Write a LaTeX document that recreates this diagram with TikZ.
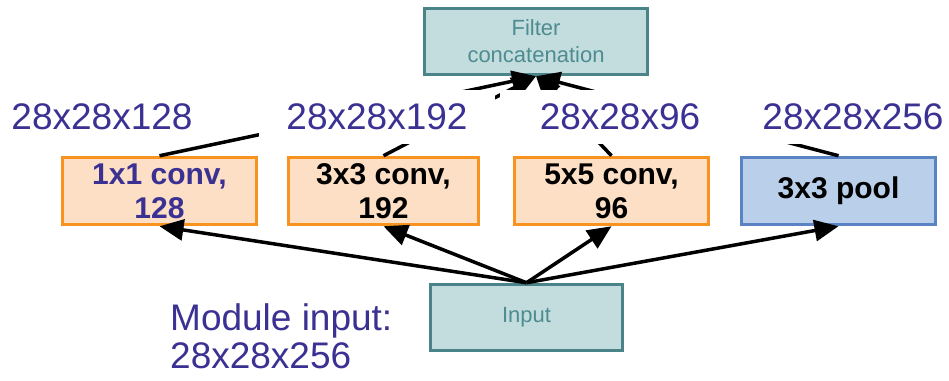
\documentclass[tikz,border=0pt]{standalone}
\usepackage{fontspec}
\setmainfont{Liberation Sans}
\usetikzlibrary{arrows.meta}

\definecolor{dimblue}{HTML}{3A3193}
\definecolor{tealline}{HTML}{4A8388}
\definecolor{tealfill}{HTML}{C3DCDE}
\definecolor{tealtext}{HTML}{4D8C90}
\definecolor{convline}{HTML}{F7931E}
\definecolor{convfill}{HTML}{FCDFC4}
\definecolor{poolline}{HTML}{5A83C3}
\definecolor{poolfill}{HTML}{B9CFEA}

\tikzset{
  layerbox/.style={line width=3.5pt, minimum width=194pt, minimum height=67pt,
    inner sep=0pt, align=center, font=\fontsize{30}{34}\selectfont\bfseries},
  convbox/.style={layerbox, draw=convline, fill=convfill},
  poolbox/.style={layerbox, draw=poolline, fill=poolfill},
  tealbox/.style={draw=tealline, fill=tealfill, line width=3.5pt, minimum height=66pt,
    inner sep=0pt, align=center, text=tealtext, font=\fontsize{22}{27}\selectfont},
  dimlabel/.style={fill=white, text=dimblue, inner sep=0pt, minimum height=54pt,
    font=\fontsize{37}{38}\selectfont},
  flow/.style={line width=3.5pt, -{Triangle[length=24pt,width=21pt]}}
}

\begin{document}
\begin{tikzpicture}[x=1pt,y=-1pt]
\useasboundingbox (0,0) rectangle (949,380);

\node[tealbox, minimum width=223pt] (concat) at (536,41.5) {Filter\\concatenation};

\node[convbox, text=dimblue] (conva) at (159.5,191) {1x1 conv,\\128};
\node[convbox, minimum width=190pt] (convb) at (383.5,191) {3x3 conv,\\192};
\node[convbox] (convc) at (611.5,191) {5x5 conv,\\96};
\node[poolbox] (pool) at (838.5,191) {3x3 pool};

\node[tealbox, minimum width=192pt] (input) at (526.5,317.5) {Input};

% from input up to the layers
\draw[flow] (input.north) -- (conva.south);
\draw[flow] (input.north) -- (convb.south);
\draw[flow] (input.north) -- (convc.south);
\draw[flow] (input.north) -- (pool.south);

% from the layers up to the concatenation
\draw[flow] (conva.north) -- (concat.south);
\draw[flow] (convb.north) -- (concat.south);
\draw[flow] (convc.north) -- (concat.south);
\draw[flow] (pool.north) -- (concat.south);

% output sizes
\node[dimlabel] (sizea) at (102,117) {28x28x128};
\node[dimlabel, minimum width=236pt] (sizeb) at (377,117) {28x28x192};
\node[dimlabel, minimum width=240pt] (sizec) at (620,117) {28x28x96};
\node[dimlabel, minimum width=240pt] (sized) at (853,117) {28x28x256};

\node[text=dimblue, align=left, anchor=north west, inner sep=0pt,
  font=\fontsize{37}{38}\selectfont] (modin) at (170,303) {Module input:\\28x28x256};
\end{tikzpicture}
\end{document}
